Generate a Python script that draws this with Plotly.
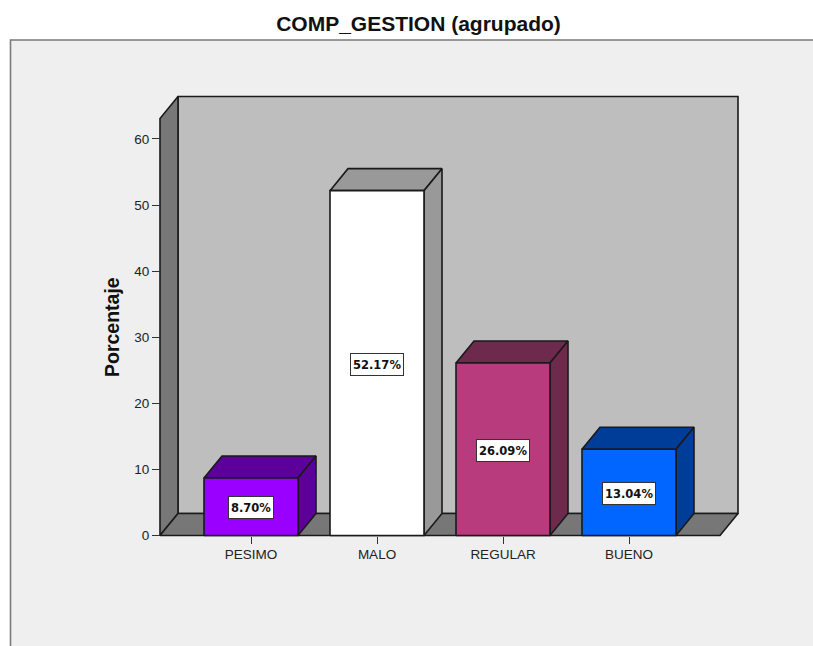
import plotly.graph_objects as go

categories = ["PESIMO", "MALO", "REGULAR", "BUENO"]
values = [8.70, 52.17, 26.09, 13.04]
labels = ["8.70%", "52.17%", "26.09%", "13.04%"]
y_ticks = [0, 10, 20, 30, 40, 50, 60]
front_colors = ["#9900FF", "#FFFFFF", "#B83B7D", "#0066FF"]
shade_colors = ["#5C0099", "#999999", "#6E2A4C", "#003D99"]

W, H = 813, 646
# axis origin in the page, and the plot area (a little larger so edges are not clipped)
OX, OY = 160, 535.5
L, R, T, B = 152, 746, 89, 543
px_per_cat = 126.0
px_per_val = 6.61
x_range = [(L - 251) / px_per_cat, (R - 251) / px_per_cat]
y_range = [(OY - B) / px_per_val, (OY - T) / px_per_val]
dx = 18 / px_per_cat
dy = 22 / px_per_val
half = 47 / px_per_cat
x0, x1 = (OX - 251) / px_per_cat, (720 - 251) / px_per_cat
ytop = (OY - 118.5) / px_per_val
EDGE = "#1a1a1a"

fig = go.Figure()

def poly(xs, ys, fill, lw=1.6):
    fig.add_trace(go.Scatter(
        x=xs + xs[:1], y=ys + ys[:1], mode="lines", fill="toself", fillcolor=fill,
        line=dict(color=EDGE, width=lw), hoverinfo="skip", showlegend=False,
    ))

# chart walls and floor
poly([x0 + dx, x1 + dx, x1 + dx, x0 + dx], [dy, dy, ytop + dy, ytop + dy], "#BEBEBE")
poly([x0, x0 + dx, x0 + dx, x0], [0, dy, ytop + dy, ytop], "#777777")
poly([x0, x1, x1 + dx, x0 + dx], [0, 0, dy, dy], "#777777")

# bars
for i, v in enumerate(values):
    a, b = i - half, i + half
    poly([a, a + dx, b + dx, b], [v, v + dy, v + dy, v], shade_colors[i])
    poly([b, b + dx, b + dx, b], [0, dy, v + dy, v], shade_colors[i])
    poly([a, b, b, a], [0, 0, v, v], front_colors[i])
    fig.add_annotation(
        x=i, y=v / 2, yshift=-1, text=f"<b>{labels[i]}</b>", showarrow=False,
        font=dict(family="DejaVu Sans", size=11.5, color="#111111"),
        height=17, valign="middle",
        bgcolor="#FFFFFF", bordercolor="#333333", borderwidth=1, borderpad=2,
    )

# page frame and axis title, in plot-area fractions
fx = lambda p: (p - L) / (R - L)
fy = lambda p: (B - p) / (B - T)
fig.add_shape(type="rect", xref="paper", yref="paper", layer="below",
              x0=fx(10.5), x1=fx(W + 5), y0=fy(H + 5), y1=fy(40),
              fillcolor="#EFEFEF", line=dict(color="#7A7A7A", width=1.6))
fig.add_annotation(xref="paper", yref="paper", x=fx(112), y=fy(327), xanchor="center", yanchor="middle",
                   text="<b>Porcentaje</b>", textangle=-90, showarrow=False,
                   font=dict(family="Liberation Sans", size=19.5, color="#111111"))

fig.update_layout(
    width=W, height=H, autosize=False,
    margin=dict(l=L, r=W - R, t=T, b=H - B, pad=0),
    paper_bgcolor="#FFFFFF", plot_bgcolor="rgba(0,0,0,0)",
    font=dict(family="Liberation Sans", color="#333333"),
    title=dict(text="<b>COMP_GESTION (agrupado)</b>", x=418.5 / W, xanchor="center",
               y=1 - 24 / H, yanchor="middle",
               font=dict(family="Liberation Sans", size=21, color="#111111")),
    xaxis=dict(range=x_range, tickvals=list(range(len(categories))), ticktext=categories,
               anchor="free", position=fy(OY),
               ticks="outside", ticklen=7, tickwidth=1.4, tickcolor="#333333", showgrid=False,
               zeroline=False, showline=False, tickfont=dict(size=13.5, color="#222222"),
               ticklabelstandoff=-1, tickangle=0),
    yaxis=dict(range=y_range, tickvals=y_ticks, anchor="free", position=fx(OX),
               ticks="outside", ticklen=8, tickwidth=1.4,
               tickcolor="#333333", showgrid=False, zeroline=False, showline=False,
               tickfont=dict(size=13.5, color="#222222")),
)

fig.write_html("out.html", post_script="document.body.style.margin='0';", config={"displayModeBar": False})
